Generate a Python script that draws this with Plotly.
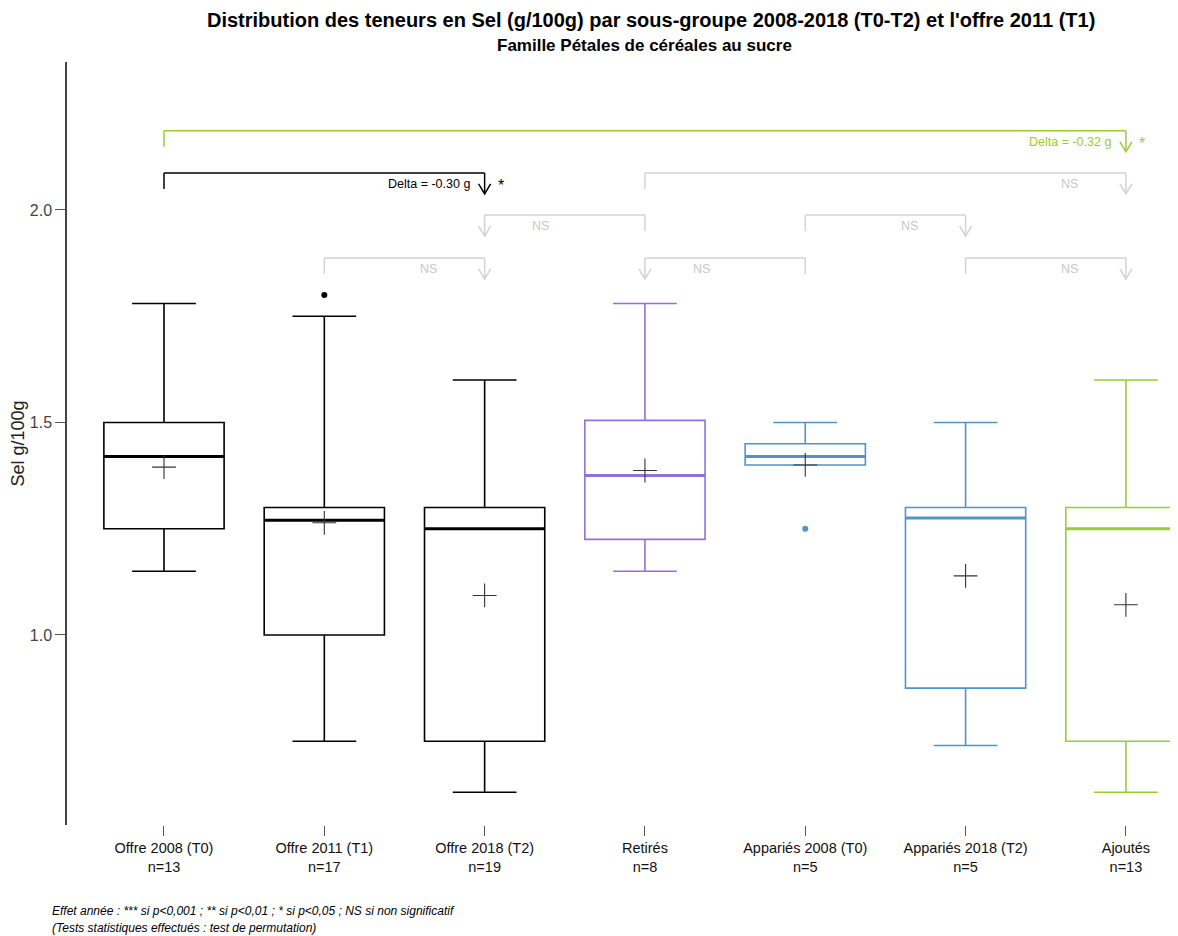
import plotly.graph_objects as go

# ---------------- data ----------------
categories = ["Offre 2008 (T0)", "Offre 2011 (T1)", "Offre 2018 (T2)", "Retirés",
              "Appariés 2008 (T0)", "Appariés 2018 (T2)", "Ajoutés"]
counts = [13, 17, 19, 8, 5, 5, 13]
q1 = [1.25, 1.00, 0.75, 1.225, 1.40, 0.875, 0.75]
median = [1.42, 1.27, 1.25, 1.375, 1.42, 1.275, 1.25]
q3 = [1.50, 1.30, 1.30, 1.505, 1.45, 1.30, 1.30]
lowerfence = [1.15, 0.75, 0.63, 1.15, 1.40, 0.74, 0.63]
upperfence = [1.78, 1.75, 1.60, 1.78, 1.50, 1.50, 1.60]
means = [1.395, 1.264, 1.093, 1.387, 1.40, 1.139, 1.071]
outlier_cat = [1, 4]
outlier_val = [1.80, 1.25]
colors = ["#000000", "#000000", "#000000", "#9370DB", "#4F94CD", "#4F94CD", "#9ACD32"]

# comparisons: (leg category, arrow category, level, label, significance, color)
GRAY = "#D3D3D3"
comparisons = [
    (0, 6, 2.186, "Delta = -0.32 g", "*", "#9ACD32"),
    (0, 2, 2.087, "Delta = -0.30 g", "*", "#000000"),
    (3, 6, 2.087, "NS", "", GRAY),
    (3, 2, 1.988, "NS", "", GRAY),
    (4, 5, 1.988, "NS", "", GRAY),
    (1, 2, 1.887, "NS", "", GRAY),
    (4, 3, 1.887, "NS", "", GRAY),
    (5, 6, 1.887, "NS", "", GRAY),
]

BOX_W = 0.75
FONT = "Liberation Sans"
fig = go.Figure()

for i, cat in enumerate(categories):
    fig.add_trace(go.Box(
        x=[i], q1=[q1[i]], median=[median[i]], q3=[q3[i]],
        lowerfence=[lowerfence[i]], upperfence=[upperfence[i]],
        width=BOX_W, whiskerwidth=0.53,
        line=dict(color=colors[i], width=1.6),
        fillcolor="rgba(0,0,0,0)", boxpoints=False,
        showlegend=False, hoverinfo="skip", name=cat,
    ))
    # thick median line
    fig.add_trace(go.Scatter(
        x=[i - BOX_W / 2, i + BOX_W / 2], y=[median[i], median[i]],
        mode="lines", line=dict(color=colors[i], width=3),
        showlegend=False, hoverinfo="skip",
    ))

# means
fig.add_trace(go.Scatter(
    x=list(range(len(categories))), y=means, mode="markers",
    marker=dict(symbol="cross-thin", size=17, line=dict(color="#333333", width=1.1)),
    showlegend=False, hoverinfo="skip",
))

# outliers
fig.add_trace(go.Scatter(
    x=outlier_cat, y=outlier_val, mode="markers",
    marker=dict(size=6, color=[colors[c] for c in outlier_cat]),
    showlegend=False, hoverinfo="skip",
))

shapes = []
annotations = []
for leg, arr, lvl, label, sig, col in comparisons:
    shapes.append(dict(type="line", xref="x", yref="y", x0=leg, x1=arr, y0=lvl, y1=lvl,
                       line=dict(color=col, width=1.5)))
    shapes.append(dict(type="line", xref="x", yref="y", ysizemode="pixel", yanchor=lvl,
                       x0=leg, x1=leg, y0=0, y1=-16, line=dict(color=col, width=1.5)))
    shapes.append(dict(type="line", xref="x", yref="y", ysizemode="pixel", yanchor=lvl,
                       x0=arr, x1=arr, y0=0, y1=-20, line=dict(color=col, width=1.5)))
    shapes.append(dict(type="path", xref="x", yref="y", xsizemode="pixel", ysizemode="pixel",
                       xanchor=arr, yanchor=lvl,
                       path="M-6,-11 L0,-21 L6,-11", line=dict(color=col, width=1.5)))
    if label.startswith("Delta"):
        annotations.append(dict(x=arr, y=lvl, xref="x", yref="y", text=label, showarrow=False,
                                xanchor="right", yanchor="middle", xshift=-13, yshift=-11,
                                font=dict(size=12.5, color=col, family=FONT)))
        annotations.append(dict(x=arr, y=lvl, xref="x", yref="y", text=sig, showarrow=False,
                                xanchor="center", yanchor="middle", xshift=16, yshift=-13,
                                font=dict(size=16, color=col, family=FONT)))
    else:
        direction = 1 if leg > arr else -1
        annotations.append(dict(x=arr + direction * 0.35, y=lvl, xref="x", yref="y", text=label,
                                showarrow=False, xanchor="center", yanchor="middle", yshift=-11,
                                font=dict(size=12.5, color="#C8C8C8", family=FONT)))

# titles
annotations.append(dict(x=0.526, y=1.055, xref="paper", yref="paper",
                        text="<b>Distribution des teneurs en Sel (g/100g) par sous-groupe 2008-2018 (T0-T2) et l'offre 2011 (T1)</b>",
                        showarrow=False, xanchor="center", yanchor="middle",
                        font=dict(size=20, color="#000000", family=FONT)))
annotations.append(dict(x=0.520, y=1.022, xref="paper", yref="paper",
                        text="<b>Famille Pétales de céréales au sucre</b>",
                        showarrow=False, xanchor="center", yanchor="middle",
                        font=dict(size=17, color="#000000", family=FONT)))
# footnotes
annotations.append(dict(x=-0.0153, y=-0.1127, xref="paper", yref="paper",
                        text="<i>Effet année : *** si p<0,001 ; ** si p<0,01 ; * si p<0,05 ; NS si non significatif</i>",
                        showarrow=False, xanchor="left", yanchor="middle",
                        font=dict(size=12, color="#000000", family=FONT)))
annotations.append(dict(x=-0.0153, y=-0.135, xref="paper", yref="paper",
                        text="<i>(Tests statistiques effectués : test de permutation)</i>",
                        showarrow=False, xanchor="left", yanchor="middle",
                        font=dict(size=12, color="#000000", family=FONT)))

ticktext = [f"{c}<br>n={n}" for c, n in zip(categories, counts)]

fig.update_layout(
    width=1170, height=928,
    margin=dict(l=59, r=0, t=54, b=111),
    plot_bgcolor="white", paper_bgcolor="white",
    font=dict(family=FONT, color="#000000"),
    shapes=shapes, annotations=annotations,
    xaxis=dict(range=[-0.605, 6.325], tickmode="array", tickvals=list(range(len(categories))),
               ticktext=ticktext, ticks="outside", ticklen=10, tickcolor="#555555",
               showline=False, showgrid=False, zeroline=False,
               tickfont=dict(size=14.5, color="#111111")),
    yaxis=dict(range=[0.553, 2.348], tickmode="array", tickvals=[1.0, 1.5, 2.0],
               ticktext=["1.0", "1.5", "2.0"], ticks="outside", ticklen=10, tickcolor="#555555",
               showline=True, linecolor="#444444", linewidth=1.5,
               showgrid=False, zeroline=False,
               tickfont=dict(size=16, color="#444444"),
               title=dict(text="Sel g/100g", font=dict(size=18, color="#222222"), standoff=8)),
)

fig.write_html("out.html")
